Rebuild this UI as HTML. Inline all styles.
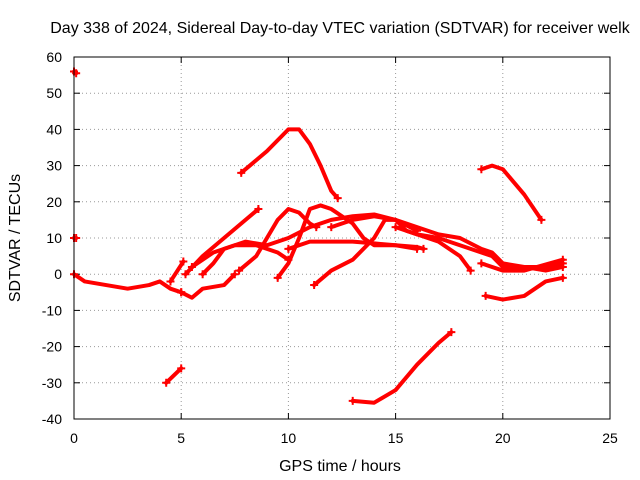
<!DOCTYPE html>
<html><head><meta charset="utf-8"><style>
body{margin:0;background:#fff}
svg{display:block;font-family:"Liberation Sans",sans-serif}
</style></head><body>
<svg id="chart" width="640" height="480" xmlns="http://www.w3.org/2000/svg">
<rect width="640" height="480" fill="#fff"/>
<text x="340" y="33" text-anchor="middle" font-size="16">Day 338 of 2024, Sidereal Day-to-day VTEC variation (SDTVAR) for receiver welk</text>
<text x="340" y="471" text-anchor="middle" font-size="16">GPS time / hours</text>
<text transform="translate(20,238) rotate(-90)" text-anchor="middle" font-size="16">SDTVAR / TECUs</text>
<g id="grid"></g><g id="ticks"></g><g id="series"></g>
<rect x="74" y="57" width="536" height="362" fill="none" stroke="#000"/>
</svg>
<script>
const xTicks=[0,5,10,15,20,25];
const yTicks=[-40,-30,-20,-10,0,10,20,30,40,50,60];
const track1=[[0,56],[0.1,55.5]];
const track2=[[0,10],[0.1,10]];
const track3=[[0,0],[0.5,-2],[1.5,-3],[2.5,-4],[3.5,-3],[4,-2],[4.5,-4],[5,-5]];
const track4=[[4.5,-2],[5.1,3.5]];
const track5=[[4.3,-30],[5,-26]];
const track6=[[7.8,28],[9,34],[10,40],[10.5,40],[11,36],[11.5,30],[12,23],[12.3,21]];
const track7=[[19,29],[19.5,30],[20,29],[21,22],[21.8,15]];
const track8=[[13,-35],[14,-35.5],[15,-32],[16,-25],[17,-19],[17.6,-16]];
const track9=[[5,-5],[5.5,-6.5],[6,-4],[7,-3],[7.5,0]];
const track10=[[5.2,0],[6,5],[7,10],[8,15],[8.6,18]];
const track11=[[5.5,2],[6.5,6],[7.5,8],[8.5,8],[9.5,6],[10,4]];
const track12=[[7.7,1],[8.5,5],[9,10],[9.5,15],[10,18],[10.5,17],[11,14],[11.3,13]];
const track13=[[9.5,-1],[10,3],[10.5,10],[11,18],[11.5,19],[12,18],[12.5,16],[13,14],[13.5,10],[14,8],[15,8],[16,7.5],[16.3,7]];
const track14=[[11.2,-3],[12,1],[13,4],[14,10],[14.5,15],[15,15],[15.5,12],[16,11],[17,10],[18,8],[19,6],[19.5,5],[20,2],[21,2],[22,2],[22.8,3]];
const track15=[[10,7],[11,9],[12,9],[13,9],[14,8.5],[15,8],[16,7]];
const track16=[[12,13],[13,15],[14,16],[15,15],[16,13],[17,11],[18,10],[19,7],[19.5,6],[20,3],[21,2],[22,1],[22.8,2]];
const track17=[[15,13],[16,11],[17,9],[18,5],[18.5,1]];
const track18=[[19.2,-6],[20,-7],[21,-6],[21.5,-4],[22,-2],[22.8,-1]];
const track19=[[19,3],[20,1],[21,1],[22.8,4]];
const track20=[[6,0],[6.5,3],[7,7],[8,9],[9,8],[10,10],[11,13],[12,15],[13,16],[14,16.5],[15,15],[16,12]];
const tracks=[track1,track2,track3,track4,track5,track6,track7,track8,track9,track10,track11,track12,track13,track14,track15,track16,track17,track18,track19,track20];
const X=v=>74+v*536/25, Y=v=>419-(v+40)*362/100;
const NS="http://www.w3.org/2000/svg";
function mk(t,a,p){const e=document.createElementNS(NS,t);for(const k in a)e.setAttribute(k,a[k]);p.appendChild(e);return e;}
const g=document.getElementById('grid'),tk=document.getElementById('ticks'),s=document.getElementById('series');
xTicks.forEach(v=>{
 if(v>0&&v<25){const l=mk('line',{x1:X(v),x2:X(v),y1:57,y2:419,stroke:'#999','stroke-dasharray':'1,3'},g);
 
 }
 const t=mk('text',{x:X(v),y:443,'text-anchor':'middle','font-size':'14'},tk);t.textContent=v;
 
 
 mk('line',{x1:X(v),x2:X(v),y1:419,y2:413,stroke:'#000'},tk);mk('line',{x1:X(v),x2:X(v),y1:57,y2:63,stroke:'#000'},tk);
});
yTicks.forEach(v=>{
 if(v>-40&&v<60){const l=mk('line',{x1:74,x2:610,y1:Y(v),y2:Y(v),stroke:'#999','stroke-dasharray':'1,3'},g);
 
 }
 const t=mk('text',{x:62,y:Y(v)+5,'text-anchor':'end','font-size':'14'},tk);t.textContent=v;
 
 
 mk('line',{x1:74,x2:80,y1:Y(v),y2:Y(v),stroke:'#000'},tk);mk('line',{x1:610,x2:604,y1:Y(v),y2:Y(v),stroke:'#000'},tk);
});
tracks.forEach((tr,i)=>{
 const p=mk('polyline',{points:tr.map(d=>X(d[0])+','+Y(d[1])).join(' '),fill:'none',stroke:'#f00','stroke-width':'4','stroke-linejoin':'round','stroke-linecap':'round'},s);
 
 
 [tr[0],tr[tr.length-1]].forEach(d=>{
  const m=mk('path',{d:`M${X(d[0])-4},${Y(d[1])}h8M${X(d[0])},${Y(d[1])-4}v8`,stroke:'#f00','stroke-width':'2'},s);
  
  
 });
});
</script>
</body></html>
